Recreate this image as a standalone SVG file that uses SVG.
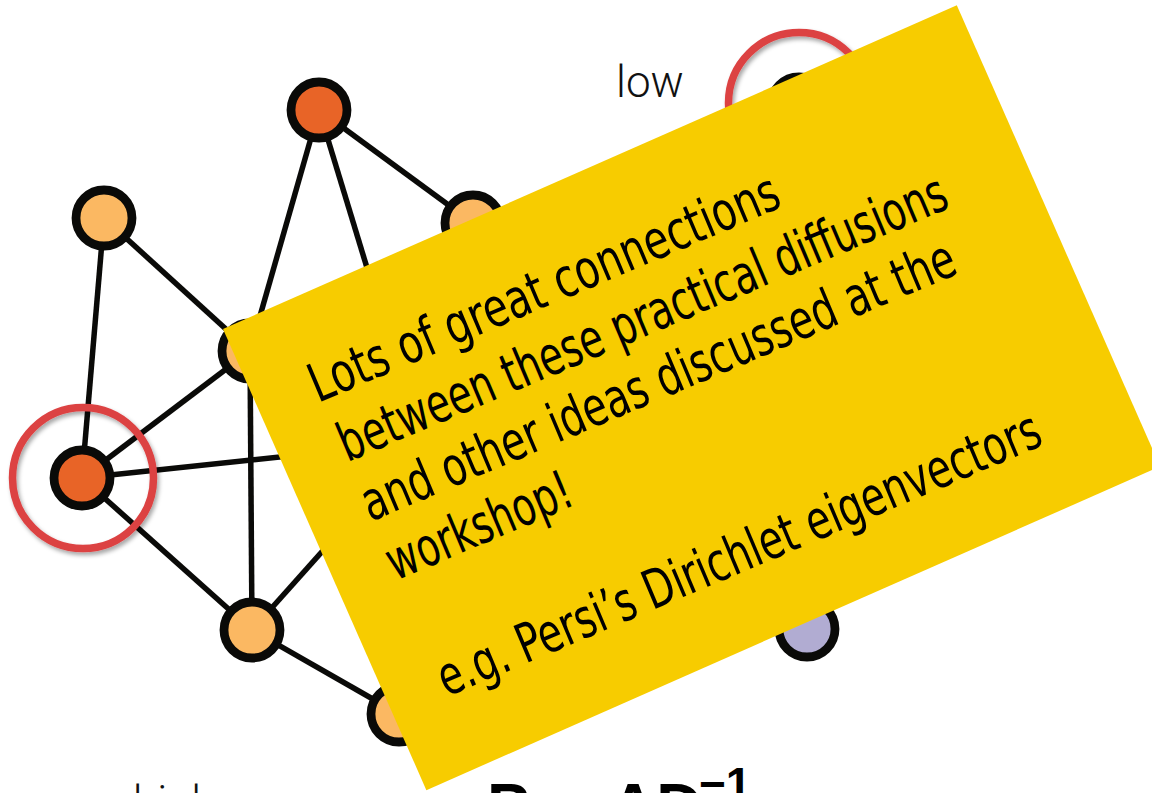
<svg xmlns="http://www.w3.org/2000/svg" width="1152" height="793" viewBox="0 0 1152 793">
<defs>
<filter id="sh" x="-20%" y="-20%" width="140%" height="140%">
<feDropShadow dx="2" dy="3" stdDeviation="2" flood-color="#000" flood-opacity="0.35"/>
</filter>
<style>
.edge{stroke:#0a0a08;stroke-width:5.5;fill:none}
.node circle{stroke:#0a0a08;stroke-width:8.8}
.dark{fill:#e86427}
.light{fill:#fbb862}
.lav{fill:#b1acd2}
.ring{fill:none;stroke:#dc4243;stroke-width:7.5;filter:url(#sh)}
.lbl{font-family:Roboto,"Liberation Sans",sans-serif;font-weight:300;font-size:44px;fill:#111}
.eq{font-family:"Liberation Sans",Arial,sans-serif;font-weight:bold;fill:#000}
.hand{font-family:"Liberation Sans Narrow","DejaVu Sans Condensed","Liberation Sans",sans-serif;font-size:54px;fill:#000}
</style>
</defs>
<rect width="1152" height="793" fill="#fff"/>
<g id="connectors">
<line class="edge" x1="104" y1="218" x2="82" y2="478"/>
<line class="edge" x1="104" y1="218" x2="250" y2="351"/>
<line class="edge" x1="319" y1="110" x2="250" y2="351"/>
<line class="edge" x1="319" y1="110" x2="420" y2="442"/>
<line class="edge" x1="319" y1="110" x2="473" y2="223"/>
<line class="edge" x1="250" y1="351" x2="82" y2="478"/>
<line class="edge" x1="250" y1="351" x2="252" y2="630"/>
<line class="edge" x1="82" y1="478" x2="420" y2="442"/>
<line class="edge" x1="82" y1="478" x2="252" y2="630"/>
<line class="edge" x1="252" y1="630" x2="420" y2="442"/>
<line class="edge" x1="252" y1="630" x2="399" y2="714"/>
</g>
<g id="n1" class="node"><circle class="dark" cx="319" cy="110" r="28"/></g>
<g id="n2" class="node"><circle class="light" cx="104" cy="218" r="28"/></g>
<g id="n3" class="node"><circle class="light" cx="473" cy="223" r="28"/></g>
<g id="n4" class="node"><circle class="light" cx="250" cy="351" r="28"/></g>
<g id="n5" class="node"><circle class="dark" cx="82" cy="478" r="28"/></g>
<g id="n6" class="node"><circle class="light" cx="252" cy="630" r="28"/></g>
<g id="n7" class="node"><circle class="light" cx="399" cy="714" r="28"/></g>
<g id="n8" class="node"><circle class="lav" cx="807" cy="629" r="28"/></g>
<g id="n9" class="node"><circle fill="#0a0a08" cx="799" cy="105" r="28"/></g>
<g id="ring-high"><circle class="ring" cx="83" cy="478" r="70.5"/></g>
<g id="ring-low"><circle class="ring" cx="799" cy="103" r="70.5"/></g>
<g id="label-low"><text class="lbl" x="616" y="97">low</text></g>
<g id="label-high"><text class="lbl" x="133" y="817">high</text></g>
<g id="equation"><text class="eq" x="487" y="829" font-size="64">P = <tspan x="610">AD</tspan><tspan x="699" dy="-29" font-size="46">−1</tspan></text></g>
<g id="note" transform="translate(223,329) rotate(-23.8)">
<rect width="802" height="504" fill="#f7cc00"/>
<text class="hand" x="57" y="106" textLength="506" lengthAdjust="spacingAndGlyphs" transform="rotate(0.9 57 106)">Lots of great connections</text>
<text class="hand" x="60" y="172" textLength="656" lengthAdjust="spacingAndGlyphs" transform="rotate(0.9 60 172)">between these practical diffusions</text>
<text class="hand" x="57" y="236" textLength="640" lengthAdjust="spacingAndGlyphs" transform="rotate(0.9 57 236)">and other ideas discussed at the</text>
<text class="hand" x="56" y="300" textLength="197" lengthAdjust="spacingAndGlyphs" transform="rotate(0.9 56 300)">workshop!</text>
<text class="hand" x="56" y="427" textLength="650" lengthAdjust="spacingAndGlyphs" transform="rotate(0.9 56 427)">e.g. Persi’s Dirichlet eigenvectors</text>
</g>
</svg>
